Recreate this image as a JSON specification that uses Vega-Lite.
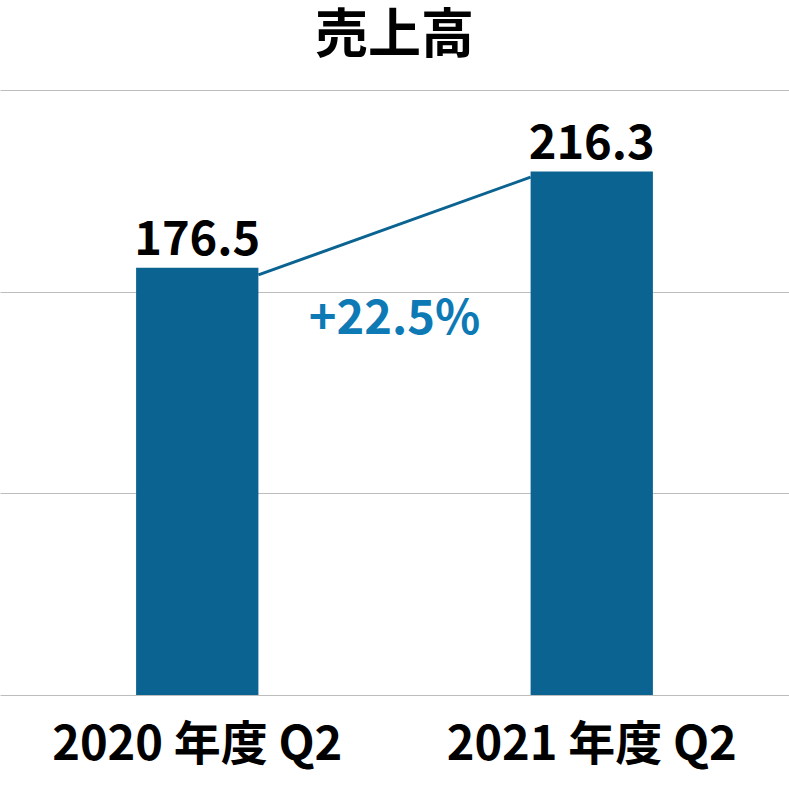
{
  "$schema": "https://vega.github.io/schema/vega-lite/v6.json",
  "width": 789,
  "height": 605,
  "autosize": {"type": "none"},
  "padding": {"top": 90, "left": 0, "right": 0, "bottom": 115},
  "background": "white",
  "config": {
    "view": {"stroke": null},
    "font": "Noto Sans CJK JP"
  },
  "title": {
    "text": "売上高",
    "fontSize": 53,
    "fontWeight": "bold",
    "color": "#000000",
    "anchor": "middle",
    "offset": 26,
    "font": "Noto Sans CJK JP"
  },
  "datasets": {
    "bars": [
      {"period": "2020 年度 Q2", "sales": 176.5},
      {"period": "2021 年度 Q2", "sales": 216.3}
    ],
    "link": [
      {"from": "2020 年度 Q2", "to": "2021 年度 Q2", "y1": 173.6, "y2": 214.0}
    ],
    "growth": [
      {"period": "2020 年度 Q2", "label": "+22.5%", "pos": 149}
    ]
  },
  "layer": [
    {
      "data": {"name": "bars"},
      "mark": {"type": "bar", "color": "#0a6391", "width": {"band": 0.31}},
      "encoding": {
        "x": {
          "field": "period",
          "type": "nominal",
          "sort": null,
          "scale": {"paddingInner": 0, "paddingOuter": 0},
          "axis": {
            "title": null,
            "labelAngle": 0,
            "labelFontSize": 47,
            "labelFontWeight": "bold",
            "labelColor": "#000000",
            "labelFont": "Noto Sans CJK JP",
            "labelBaseline": "alphabetic",
            "labelPadding": 64,
            "labelLimit": 0,
            "ticks": false,
            "tickSize": 0,
            "domain": false,
            "grid": false
          }
        },
        "y": {
          "field": "sales",
          "type": "quantitative",
          "scale": {"domain": [0, 250], "nice": false},
          "axis": {
            "title": null,
            "labels": false,
            "ticks": false,
            "domain": false,
            "grid": true,
            "gridColor": "#bdbdbd",
            "gridWidth": 1.2,
            "values": [0, 83.333, 166.667, 250]
          }
        }
      }
    },
    {
      "data": {"name": "bars"},
      "mark": {
        "type": "text",
        "baseline": "alphabetic",
        "align": "center",
        "dy": -13,
        "fontSize": 47,
        "fontWeight": "bold",
        "color": "#000000",
        "font": "Noto Sans CJK JP"
      },
      "encoding": {
        "x": {"field": "period", "type": "nominal", "sort": null},
        "y": {"field": "sales", "type": "quantitative"},
        "text": {"field": "sales", "type": "quantitative", "format": ".1f"}
      }
    },
    {
      "data": {"name": "link"},
      "mark": {"type": "rule", "color": "#0a6391", "strokeWidth": 3},
      "encoding": {
        "x": {"field": "from", "type": "nominal", "bandPosition": 0.655},
        "x2": {"field": "to", "bandPosition": 0.345},
        "y": {"field": "y1", "type": "quantitative"},
        "y2": {"field": "y2"}
      }
    },
    {
      "data": {"name": "growth"},
      "mark": {
        "type": "text",
        "baseline": "alphabetic",
        "align": "center",
        "fontSize": 47,
        "fontWeight": "bold",
        "color": "#0e7ab5",
        "font": "Noto Sans CJK JP"
      },
      "encoding": {
        "x": {"field": "period", "type": "nominal", "bandPosition": 1},
        "y": {"field": "pos", "type": "quantitative"},
        "text": {"field": "label"}
      }
    }
  ]
}
